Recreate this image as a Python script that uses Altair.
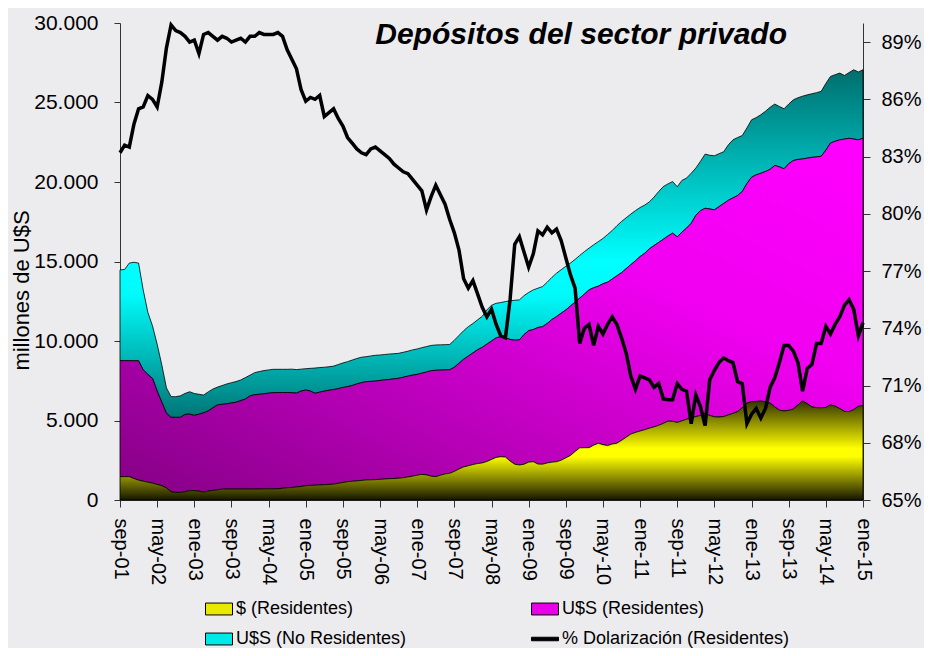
import altair as alt
import pandas as pd

# ---- x-axis tick labels (one every 8 months, sep-01 .. ene-15) ----
tick_labels = ["sep-01", "may-02", "ene-03", "sep-03", "may-04", "ene-05", "sep-05",
               "may-06", "ene-07", "sep-07", "may-08", "ene-09", "sep-09", "may-10",
               "ene-11", "sep-11", "may-12", "ene-13", "sep-13", "may-14", "ene-15"]

# legend order (laid out column by column: $ / No Res. | U$S Res. / %)
series_names = ["$ (Residentes)", "U$S (No Residentes)", "U$S (Residentes)",
                "% Dolarización (Residentes)"]
series_colors = ["#e8e800", "#00e8e8", "#e800e8", "#000000"]

# ---- monthly data, sep-2001 .. ene-2015 (millones de U$S) ----
# Depósitos en $ de residentes
pesos_res = [
    1470, 1470, 1470, 1350, 1250, 1180, 1120, 1060, 980, 900,
    760, 520, 480, 480, 520, 590, 590, 560, 500, 570,
    600, 640, 690, 690, 690, 690, 690, 690, 690, 690,
    690, 700, 700, 700, 710, 740, 770, 790, 820, 850,
    900, 920, 930, 950, 960, 980, 1000, 1050, 1100, 1150,
    1180, 1200, 1230, 1260, 1270, 1280, 1300, 1320, 1340, 1350,
    1370, 1400, 1450, 1500, 1560, 1610, 1580, 1500, 1470, 1560,
    1640, 1680, 1800, 1950, 2080, 2150, 2230, 2290, 2330, 2420,
    2550, 2680, 2720, 2700, 2450, 2250, 2200, 2250, 2380, 2410,
    2260, 2250, 2330, 2380, 2410, 2500, 2650, 2800, 3050, 3280,
    3290, 3290, 3450, 3570, 3480, 3420, 3520, 3570, 3750, 3950,
    4150, 4250, 4340, 4420, 4520, 4600, 4700, 4820, 4960, 4950,
    4880, 4980, 5080, 5150, 5250, 5320, 5450, 5320, 5230, 5220,
    5250, 5350, 5450, 5560, 5800, 6100, 6190, 6200, 6220, 6180,
    6090, 5850, 5650, 5600, 5640, 5720, 5980, 6230, 6050, 5850,
    5810, 5800, 5820, 5980, 5900, 5750, 5570, 5560, 5680, 5900,
    5935]

# Total depósitos de residentes ($ + U$S)
total_res = [
    8760, 8760, 8760, 8760, 8760, 8180, 7900, 7650, 6850, 6150,
    5450, 5200, 5200, 5200, 5380, 5400, 5320, 5400, 5480, 5600,
    5800, 5980, 6020, 6050, 6100, 6150, 6250, 6350, 6550, 6620,
    6650, 6680, 6720, 6750, 6760, 6760, 6760, 6750, 6720, 6850,
    6920, 6850, 6710, 6780, 6850, 6900, 6950, 7000, 7080, 7130,
    7200, 7300, 7380, 7440, 7460, 7480, 7520, 7550, 7580, 7620,
    7654, 7720, 7790, 7850, 7900, 7980, 8050, 8130, 8160, 8170,
    8180, 8190, 8350, 8600, 8850, 9050, 9250, 9450, 9600, 9800,
    10000, 10200, 10277, 10200, 10100, 10050, 10070, 10400, 10650, 10720,
    10850, 10905, 11100, 11350, 11535, 11750, 11950, 12200, 12450, 12700,
    12950, 13215, 13350, 13450, 13600, 13700, 13900, 14100, 14300, 14550,
    14800, 15050, 15310, 15520, 15800, 16000, 16200, 16400, 16600, 16785,
    16550, 16850, 17100, 17400, 17900, 18200, 18350, 18300, 18250, 18450,
    18650, 18850, 19000, 19150, 19400, 19900, 20300, 20450, 20550, 20660,
    20800, 21040, 20950, 20830, 21150, 21350, 21420, 21450, 21500, 21550,
    21580, 21620, 22000, 22450, 22560, 22650, 22700, 22750, 22700, 22650,
    22760]

# Total depósitos del sector privado (residentes + no residentes)
total = [
    14470, 14500, 14900, 14950, 14900, 13200, 11800, 10950, 9800, 8500,
    7050, 6500, 6500, 6550, 6700, 6810, 6700, 6650, 6600, 6800,
    6980, 7100, 7200, 7300, 7380, 7450, 7550, 7700, 7850, 8010,
    8080, 8140, 8180, 8220, 8220, 8220, 8220, 8230, 8200, 8230,
    8260, 8280, 8300, 8330, 8350, 8380, 8420, 8520, 8620, 8700,
    8800, 8900, 8980, 9014, 9060, 9100, 9120, 9150, 9180, 9200,
    9225, 9290, 9360, 9440, 9500, 9580, 9650, 9720, 9750, 9760,
    9770, 9780, 10050, 10350, 10650, 10900, 11100, 11330, 11550, 11950,
    12250, 12370, 12420, 12480, 12530, 12560, 12585, 12850, 13050, 13215,
    13320, 13425, 13700, 14000, 14265, 14480, 14700, 14900, 15130, 15380,
    15620, 15840, 16050, 16250, 16450, 16700, 16950, 17250, 17515, 17750,
    17980, 18200, 18395, 18550, 18750, 19050, 19400, 19716, 19880, 20030,
    19700, 20100, 20245, 20550, 20875, 21300, 21755, 21680, 21650, 21780,
    21900, 22340, 22650, 22800, 22920, 23400, 23910, 24050, 24230, 24450,
    24700, 24900, 24750, 24605, 24900, 25170, 25300, 25400, 25480, 25550,
    25620, 25700, 26200, 26640, 26750, 26850, 26700, 26880, 27060, 26920,
    27060]

# % dolarización de los depósitos de residentes (eje derecho)
dolarizacion = [
    83.2, 83.6, 83.5, 84.7, 85.5, 85.6, 86.2, 86.0, 85.6, 86.9,
    88.7, 89.9, 89.6, 89.5, 89.3, 89.0, 89.1, 88.4, 89.4, 89.5,
    89.3, 89.1, 89.3, 89.2, 89.0, 89.1, 89.2, 89.0, 89.3, 89.3,
    89.5, 89.4, 89.4, 89.4, 89.5, 89.3, 88.6, 88.1, 87.6, 86.5,
    85.9, 86.1, 86.0, 86.2, 85.1, 85.3, 85.5, 85.0, 84.6, 84.0,
    83.7, 83.4, 83.2, 83.1, 83.4, 83.5, 83.3, 83.1, 82.9, 82.6,
    82.4, 82.2, 82.1, 81.8, 81.5, 81.2, 80.2, 80.9, 81.5, 81.0,
    80.5, 79.7, 79.0, 78.1, 76.6, 76.1, 76.5, 75.8, 75.1, 74.6,
    75.0, 74.2, 73.6, 73.5, 75.5, 78.4, 78.8, 78.0, 77.2, 77.9,
    79.1, 78.9, 79.3, 79.0, 79.2, 78.6, 77.7, 76.8, 76.1, 73.2,
    74.0, 74.2, 73.1, 74.1, 73.7, 74.2, 74.6, 74.2, 73.5, 72.7,
    71.5, 70.8, 71.5, 71.4, 71.3, 70.9, 71.1, 70.3, 70.25, 70.25,
    71.1, 70.8, 70.7, 69.0, 70.5, 69.9, 68.9, 71.3, 71.8, 72.2,
    72.45, 72.3, 72.2, 71.2, 71.1, 69.0, 69.5, 69.8, 69.3, 69.8,
    70.9, 71.4, 72.2, 73.1, 73.1, 72.8, 72.2, 70.7, 71.9, 72.1,
    73.2, 73.2, 74.1, 73.7, 74.2, 74.6, 75.2, 75.5, 75.0, 73.6,
    74.3]

n_months = len(pesos_res)
df = pd.DataFrame({
    "mes": list(range(n_months)),
    "pesos_res": pesos_res,
    "total_res": total_res,
    "total": total,
    "dolar": dolarizacion,
})

FONT = "Liberation Sans"
AXIS_COLOR = "#333333"
W, H = 743, 477

label_array = "[" + ",".join("'" + t + "'" for t in tick_labels) + "]"
step = (n_months - 1) // (len(tick_labels) - 1)

x_enc = alt.X(
    "mes:Q",
    scale=alt.Scale(domain=[0, n_months - 1], nice=False, zero=False),
    axis=alt.Axis(
        values=list(range(0, n_months, step)),
        labelExpr=label_array + "[round(datum.value/" + str(step) + ")]",
        labelAngle=90, labelAlign="left", labelBaseline="middle",
        labelFontSize=20, labelFont=FONT, labelColor="black",
        labelPadding=11, tickSize=7, tickColor=AXIS_COLOR,
        domainColor=AXIS_COLOR, grid=False, title=None, labelOverlap=False,
    ),
)

left_axis = alt.Axis(
    values=list(range(0, 30001, 5000)),
    labelExpr="replace(format(datum.value, ','), ',', '.')",
    labelFontSize=21, labelFont=FONT, labelColor="black", labelPadding=16,
    tickSize=6, tickColor=AXIS_COLOR, domainColor=AXIS_COLOR, grid=False,
    title="millones de U$S", titleFontSize=22, titleFont=FONT,
    titleFontWeight="normal", titleColor="black",
    titleX=-99, titleY=267, titleAngle=-90, titleAlign="center",
    titleBaseline="middle",
)
yscale = alt.Scale(domain=[0, 30000], nice=False)


def grad(stops, x1=0, y1=0, x2=0, y2=1):
    return alt.LinearGradient(
        gradient="linear",
        stops=[alt.GradientStop(color=c, offset=o) for o, c in stops],
        x1=x1, y1=y1, x2=x2, y2=y2,
    )


yellow_grad = grad([(0, "#333300"), (0.48, "#ffff00"), (0.56, "#ffff00"), (1, "#161600")])
magenta_grad = grad([(0, "#ff00ff"), (0.35, "#f000f0"), (1, "#850085")], x1=1, y1=0, x2=0, y2=1)
cyan_grad = grad([(0, "#006e6e"), (0.55, "#00ffff"), (0.65, "#00fafa"), (1, "#007575")])

base = alt.Chart(df)

area_pesos = base.mark_area(fill=yellow_grad, stroke="black", strokeWidth=0.8).encode(
    x=x_enc,
    y=alt.Y("pesos_res:Q", scale=yscale, axis=left_axis),
)
area_usd = base.mark_area(fill=magenta_grad, stroke="black", strokeWidth=0.8).encode(
    x=x_enc,
    y=alt.Y("total_res:Q", scale=yscale, axis=left_axis),
    y2="pesos_res:Q",
)
area_nores = base.mark_area(fill=cyan_grad, stroke="black", strokeWidth=0.8).encode(
    x=x_enc,
    y=alt.Y("total:Q", scale=yscale, axis=left_axis),
    y2="total_res:Q",
)

legend = alt.Legend(
    title=None, orient="none", legendX=85, legendY=572, columns=2,
    labelFont=FONT, labelFontSize=18, labelColor="black", labelOffset=3,
    symbolSize=729, rowPadding=7, columnPadding=122, symbolStrokeColor="black",
    symbolStrokeWidth=1, labelLimit=400,
)
swatch = "M-1,-0.44L1,-0.44L1,0.44L-1,0.44Z"
line_sym = "M-1,-0.13L1,-0.13L1,0.13L-1,0.13Z"
legend_df = pd.DataFrame({"serie": series_names})
legend_layer = alt.Chart(legend_df).transform_filter("false").mark_point(
    filled=True, stroke="black", strokeWidth=1, opacity=1
).encode(
    color=alt.Color("serie:N", scale=alt.Scale(domain=series_names, range=series_colors),
                    legend=legend),
    shape=alt.Shape("serie:N", scale=alt.Scale(
        domain=series_names, range=[swatch, swatch, swatch, line_sym]), legend=legend),
)

areas = alt.layer(area_nores, area_usd, area_pesos, legend_layer)

line = base.mark_line(color="black", strokeWidth=3.5).encode(
    x=x_enc,
    y=alt.Y("dolar:Q", scale=alt.Scale(domain=[65, 90], nice=False, zero=False),
            axis=alt.Axis(
                orient="right", values=list(range(65, 90, 3)),
                labelExpr="datum.value + '%'",
                labelFontSize=20, labelFont=FONT, labelColor="black", labelPadding=11,
                tickSize=7, tickColor=AXIS_COLOR, domainColor=AXIS_COLOR,
                grid=False, title=None)),
)

chart = alt.layer(areas, line).resolve_scale(y="independent").properties(
    width=W, height=H,
    autosize=alt.AutoSizeParams(type="none"),
    padding={"left": 112, "top": 15, "right": 61, "bottom": 148},
    title=alt.TitleParams(
        text="Depósitos del sector privado", anchor="end", frame="group",
        font=FONT, fontSize=30, fontStyle="italic", fontWeight="bold",
        color="black", baseline="alphabetic", offset=0, dx=-76, dy=62,
    ),
).configure(
    background="#ececef",
).configure_view(stroke=None)

chart.save("out.html", embed_options={"renderer": "svg", "actions": False})
